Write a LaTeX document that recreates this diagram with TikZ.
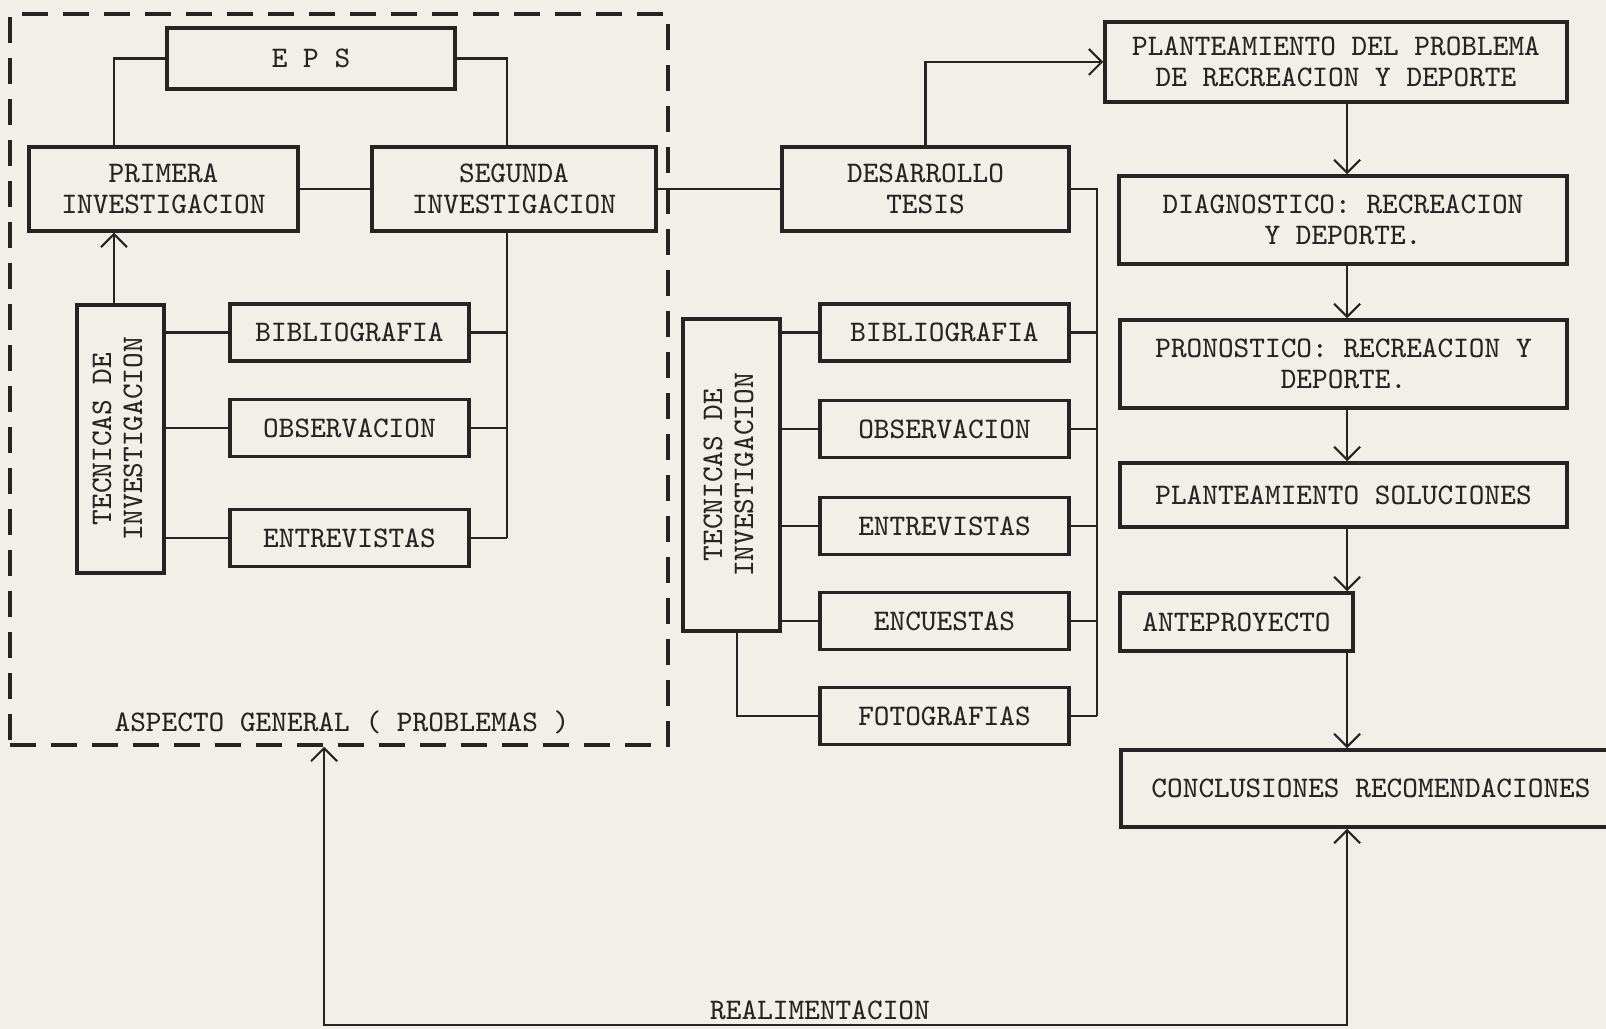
\documentclass[tikz,border=0pt]{standalone}
\usetikzlibrary{arrows.meta}

\definecolor{paper}{RGB}{240,240,232}
\definecolor{ink}{RGB}{36,36,34}

\newcommand{\vlabel}[2]{\rotatebox{90}{\begin{tabular}{@{}c@{}}#1\\#2\end{tabular}}}

\begin{document}
\begin{tikzpicture}[
    x=1cm, y=-1cm,
    color=ink,
    line width=0.6pt,
    >={Straight Barb[length=1.3mm,width=2.6mm]},
    txt/.style={inner sep=0pt, align=center,
        font=\ttfamily\fontsize{8.5}{8.8}\selectfont},
    box/.style={txt, draw, line width=1pt},
    techA/.style={box, minimum width=2.39cm, minimum height=0.57cm},
    techB/.style={box, minimum width=2.49cm, minimum height=0.57cm},
    frame/.style={draw, line width=1pt, dash pattern=on 2.6mm off 1.5mm}
]

% Paper
\fill[paper] (0,0) rectangle (16.06,10.29);
\useasboundingbox (0,0) rectangle (16.06,10.29);

% Vertical lines used by the connectors
\coordinate (xl) at (1.14,0);   % PRIMERA side
\coordinate (xr) at (5.07,0);   % SEGUNDA side
\coordinate (xt) at (7.37,0);   % under second TECNICAS
\coordinate (xm) at (10.97,0);  % right of middle techniques
\coordinate (xa) at (13.47,0);  % main chain

% General aspect (dashed frame)
\node[frame, minimum width=6.58cm, minimum height=7.31cm] (gen) at (3.39,3.795) {};
\node[txt] (genlbl) at (3.42,7.22) {ASPECTO GENERAL ( PROBLEMAS )};

% Left group
\node[box, minimum width=2.88cm, minimum height=0.61cm] (eps) at (3.11,0.585) {E P S};
\node[box, minimum width=2.69cm, minimum height=0.84cm] (prim) at (1.635,1.89) {PRIMERA\\INVESTIGACION};
\node[box, minimum width=2.84cm, minimum height=0.84cm] (seg) at (5.14,1.89) {SEGUNDA\\INVESTIGACION};
\node[box, minimum width=0.87cm, minimum height=2.68cm] (tecA) at (1.205,4.39) {\vlabel{TECNICAS DE}{INVESTIGACION}};
\node[techA] (bibA) at (3.495,3.325) {BIBLIOGRAFIA};
\node[techA] (obsA) at (3.495,4.28) {OBSERVACION};
\node[techA] (entA) at (3.495,5.38) {ENTREVISTAS};

\draw (xl |- prim.north) -- (xl |- eps.west) -- (eps.west);
\draw (xr |- seg.north) -- (xr |- eps.east) -- (eps.east);
\draw (prim.east) -- (prim.east -| seg.west);
\draw[->] (xl |- tecA.north) -- (xl |- prim.south);
\foreach \n in {bibA,obsA,entA} {
    \draw (tecA.east |- \n) -- (\n.west);
    \draw (\n.east) -- (xr |- \n);
}
\draw (xr |- seg.south) -- (xr |- entA);

% Middle group
\node[box, minimum width=2.87cm, minimum height=0.84cm] (des) at (9.255,1.89) {DESARROLLO\\TESIS};
\node[box, minimum width=0.97cm, minimum height=3.12cm] (tecB) at (7.315,4.75) {\vlabel{TECNICAS DE}{INVESTIGACION}};
\node[techB] (bibB) at (9.445,3.325) {BIBLIOGRAFIA};
\node[techB] (obsB) at (9.445,4.29) {OBSERVACION};
\node[techB] (entB) at (9.445,5.26) {ENTREVISTAS};
\node[techB] (encB) at (9.445,6.21) {ENCUESTAS};
\node[techB] (fotB) at (9.445,7.16) {FOTOGRAFIAS};

\draw (seg.east) -- (seg.east -| des.west);
\draw (des.east) -- (xm |- des.east) -- (xm |- fotB);
\foreach \n in {bibB,obsB,entB,encB}
    \draw (tecB.east |- \n) -- (\n.west);
\draw (xt |- tecB.south) -- (xt |- fotB) -- (fotB.west);
\foreach \n in {bibB,obsB,entB,encB,fotB}
    \draw (\n.east) -- (xm |- \n);

% Right chain
\node[box, minimum width=4.62cm, minimum height=0.80cm] (plan) at (13.36,0.62) {PLANTEAMIENTO DEL PROBLEMA\\DE RECREACION Y DEPORTE};
\node[box, minimum width=4.48cm, minimum height=0.88cm] (diag) at (13.43,2.20) {DIAGNOSTICO: RECREACION\\Y DEPORTE.};
\node[box, minimum width=4.47cm, minimum height=0.88cm] (pron) at (13.435,3.64) {PRONOSTICO: RECREACION Y\\DEPORTE.};
\node[box, minimum width=4.47cm, minimum height=0.64cm] (sol) at (13.435,4.95) {PLANTEAMIENTO SOLUCIONES};
\node[box, minimum width=2.33cm, minimum height=0.58cm] (ante) at (12.365,6.22) {ANTEPROYECTO};
\node[box, minimum width=5.0cm, minimum height=0.77cm] (conc) at (13.71,7.885) {CONCLUSIONES RECOMENDACIONES};

\draw[->] (des.north) -- (des.north |- plan.west) -- (plan.west);
\foreach \a/\b in {plan/diag,diag/pron,pron/sol,sol/ante,ante/conc}
    \draw[->] (xa |- \a.south) -- (xa |- \b.north);

% Feedback loop
\coordinate (fbl) at (3.24,10.25);
\coordinate (fbr) at (13.47,10.25);
\draw[<->] (fbl |- gen.south) -- (fbl) -- (fbr) -- (xa |- conc.south);
\node[txt] (fblbl) at (8.20,10.10) {REALIMENTACION};

\end{tikzpicture}
\end{document}
